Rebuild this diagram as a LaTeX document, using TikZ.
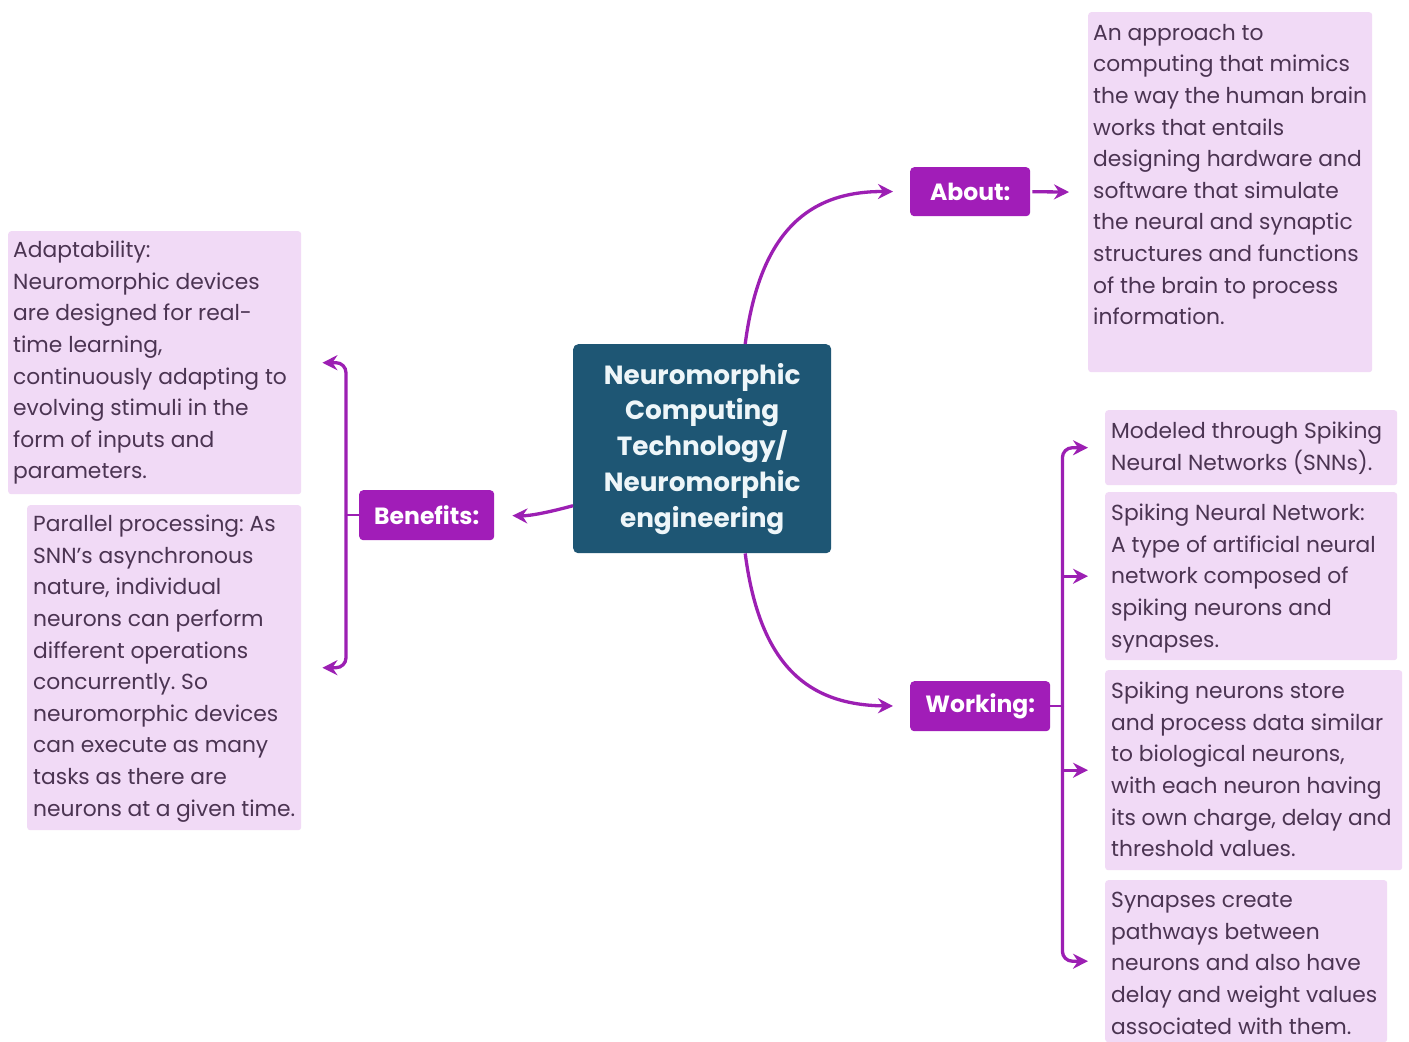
\documentclass[tikz,border=0pt]{standalone}
\usepackage{fontspec}
\setmainfont{Poppins}
\usetikzlibrary{arrows.meta}
\frenchspacing
\definecolor{lnc}{HTML}{9C1FB3}
\definecolor{lblc}{HTML}{A11DB8}
\definecolor{descc}{HTML}{F1DAF6}
\definecolor{txtc}{HTML}{4B3452}
\definecolor{ctrc}{HTML}{1E5674}
\definecolor{ctrtxt}{HTML}{EEF6F9}
\newcommand{\dtext}[3]{\begin{minipage}[t][#2pt][t]{#1pt}\raggedright #3\end{minipage}}
\tikzset{
  lbl/.style={fill=lblc, rounded corners=4pt, text=white, anchor=north west, inner sep=0pt,
    font=\bfseries\fontsize{23.5}{26}\selectfont},
  desc/.style={fill=descc, rounded corners=3pt, text=txtc, anchor=north west, inner xsep=5pt, inner ysep=12pt,
    font=\fontsize{21.8}{31.6}\selectfont},
  arr/.style={draw=lnc, line width=3.3pt, -{Stealth[length=15pt,width=15pt,inset=5pt]}},
  lnk/.style={draw=lnc, line width=2.5pt},
}
\begin{document}
\begin{tikzpicture}[x=1pt,y=-1pt]
\useasboundingbox[fill=white] (0,0) rectangle (1409,1042);

% central node
\node[fill=ctrc, rounded corners=5pt, anchor=north west, minimum width=258pt, minimum height=209pt,
  text=ctrtxt, align=center, font=\bfseries\fontsize{26.3}{35.8}\selectfont] (c) at (573,344)
  {Neuromorphic\\Computing\\Technology/\\Neuromorphic\\engineering};

% labels
\node[lbl, minimum width=120pt, minimum height=49pt] (ab) at (910,167) {About:};
\node[lbl, minimum width=135pt, minimum height=50pt] (bn) at (359,490) {Benefits:};
\node[lbl, minimum width=140pt, minimum height=50pt] (wk) at (910,681) {Working:};

% description boxes
\node[desc] (ad) at (1088,12) {\dtext{274}{336}{An approach to\\computing that mimics\\the way the human brain\\works that entails\\designing hardware and\\software that simulate\\the neural and synaptic\\structures and functions\\of the brain to process\\information.}};

\node[desc, inner ysep=10pt] (b1) at (8,231) {\dtext{283}{243}{Adaptability:\\Neuromorphic devices\\are designed for real-\\time learning,\\continuously adapting to\\evolving stimuli in the\\form of inputs and\\parameters.}};

\node[desc, inner xsep=6pt, inner ysep=10pt] (b2) at (27,505) {\dtext{262}{305}{Parallel processing: As\\SNN's asynchronous\\nature, individual\\neurons can perform\\different operations\\concurrently. So\\neuromorphic devices\\can execute as many\\tasks as there are\\neurons at a given time.}};

\node[desc, inner xsep=6pt] (w1) at (1105,410) {\dtext{280}{51}{Modeled through Spiking\\Neural Networks (SNNs).}};
\node[desc, inner xsep=6pt] (w2) at (1105,492) {\dtext{280}{144}{Spiking Neural Network:\\A type of artificial neural\\network composed of\\spiking neurons and\\synapses.}};
\node[desc, inner xsep=6pt] (w3) at (1105,670) {\dtext{285}{176}{Spiking neurons store\\and process data similar\\to biological neurons,\\with each neuron having\\its own charge, delay and\\threshold values.}};
\node[desc, inner xsep=6pt] (w4) at (1105,880) {\dtext{270}{138}{Synapses create\\pathways between\\neurons and also have\\delay and weight values\\associated with them.}};

% connectors from centre
\draw[arr, shorten >=17pt] ([xshift=43pt]c.north) .. controls (760,230) and (810,191) .. (ab.west);
\draw[arr, shorten >=17pt] ([xshift=43pt]c.south) .. controls (760,668) and (810,705) .. (wk.west);
\draw[arr, shorten >=18pt] ([yshift=-57pt]c.west) .. controls (550,512) and (530,516) .. (bn.east);
\draw[arr, shorten <=2pt, shorten >=19pt] (ab.east) -- (ad.west);

% benefits bracket
\draw[lnk] (bn.west) -- ++(-13,0) coordinate (bj);
\draw[arr, rounded corners=10pt, shorten >=21pt] (bj) |- (b1.east);
\draw[arr, rounded corners=10pt, shorten >=21pt] (bj) |- (b2.east);

% working bracket
\draw[lnk] (wk.east) -- ++(12,0) coordinate (wj);
\draw[arr, rounded corners=10pt, shorten >=17pt] (wj) |- (w1.west);
\draw[arr, rounded corners=10pt, shorten >=17pt] (wj) |- (w4.west);
\draw[arr, shorten >=17pt] (wj |- w2.west) -- (w2.west);
\draw[arr, shorten >=17pt] (wj |- w3.west) -- (w3.west);
\end{tikzpicture}
\end{document}
